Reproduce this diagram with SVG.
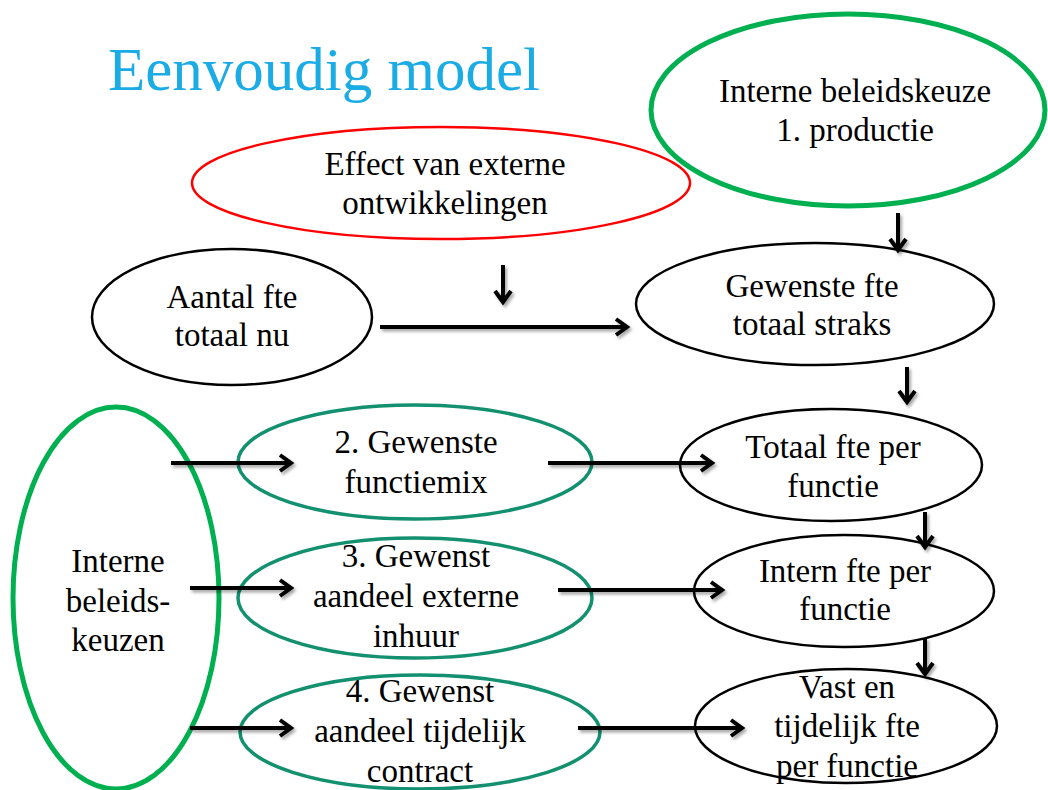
<svg xmlns="http://www.w3.org/2000/svg" width="1048" height="790" viewBox="0 0 1048 790" font-family="'Liberation Serif', 'Times New Roman', serif">
<style>
.t{font-family:"Liberation Serif","Times New Roman",serif;font-size:33px;fill:#000;text-anchor:middle}
.title{font-family:"Liberation Serif","Times New Roman",serif;font-size:61px;fill:#1BACE6}
.blk{fill:none;stroke:#000;stroke-width:2.5}
.red{fill:none;stroke:#FF0000;stroke-width:2.5}
.grn{fill:none;stroke:#00B050;stroke-width:5}
.teal{fill:none;stroke:#12906F;stroke-width:3.5}
.arr{stroke:#000;stroke-width:4;fill:none;marker-end:url(#ah)}
</style>
<defs>
<marker id="ah" viewBox="0 0 18 22" refX="13" refY="11" markerWidth="18" markerHeight="22" markerUnits="userSpaceOnUse" orient="auto">
<path d="M2,3 L13,11 L2,19" fill="none" stroke="#000" stroke-width="4" stroke-linejoin="miter"/>
</marker>
<filter id="sh" x="-20%" y="-50%" width="140%" height="200%">
<feDropShadow dx="2" dy="2.5" stdDeviation="1.5" flood-color="#000" flood-opacity="0.35"/>
</filter>
</defs>
<rect width="1048" height="790" fill="#fff"/>
<text class="title" x="108" y="90">Eenvoudig model</text>

<g id="node-productie">
<ellipse class="grn" cx="848" cy="110" rx="197" ry="96"/>
<text class="t" x="855" y="102">Interne beleidskeuze</text>
<text class="t" x="855" y="141">1. productie</text>
</g>
<g id="node-extern">
<ellipse class="red" cx="441" cy="183" rx="249" ry="56"/>
<text class="t" x="445" y="175">Effect van externe</text>
<text class="t" x="445" y="214">ontwikkelingen</text>
</g>
<g id="node-aantal">
<ellipse class="blk" cx="232" cy="317" rx="140" ry="68"/>
<text class="t" x="232" y="308">Aantal fte</text>
<text class="t" x="232" y="346">totaal nu</text>
</g>
<g id="node-gewenst">
<ellipse class="blk" cx="815" cy="304" rx="179" ry="61"/>
<text class="t" x="812" y="297">Gewenste fte</text>
<text class="t" x="812" y="335">totaal straks</text>
</g>
<g id="node-beleid">
<ellipse class="grn" cx="116" cy="598" rx="103" ry="191"/>
<text class="t" x="118" y="572">Interne</text>
<text class="t" x="118" y="612">beleids-</text>
<text class="t" x="118" y="651">keuzen</text>
</g>
<g id="node-functiemix">
<ellipse class="teal" cx="415" cy="462" rx="177" ry="57"/>
<text class="t" x="416" y="453">2. Gewenste</text>
<text class="t" x="416" y="493">functiemix</text>
</g>
<g id="node-inhuur">
<ellipse class="teal" cx="415" cy="598" rx="177" ry="60"/>
<text class="t" x="416" y="567">3. Gewenst</text>
<text class="t" x="416" y="607">aandeel externe</text>
<text class="t" x="416" y="647">inhuur</text>
</g>
<g id="node-tijdelijk">
<ellipse class="teal" cx="420" cy="732" rx="180" ry="57"/>
<text class="t" x="420" y="702">4. Gewenst</text>
<text class="t" x="420" y="742">aandeel tijdelijk</text>
<text class="t" x="420" y="782">contract</text>
</g>
<g id="node-totaal">
<ellipse class="blk" cx="831" cy="465" rx="151" ry="56"/>
<text class="t" x="833" y="458">Totaal fte per</text>
<text class="t" x="833" y="497">functie</text>
</g>
<g id="node-intern">
<ellipse class="blk" cx="844" cy="591" rx="150" ry="56"/>
<text class="t" x="845" y="582">Intern fte per</text>
<text class="t" x="845" y="620">functie</text>
</g>
<g id="node-vast">
<ellipse class="blk" cx="846" cy="726" rx="151" ry="57"/>
<text class="t" x="847" y="698">Vast en</text>
<text class="t" x="847" y="737">tijdelijk fte</text>
<text class="t" x="847" y="777">per functie</text>
</g>

<g id="connectors" filter="url(#sh)">
<line class="arr" x1="898" y1="213" x2="898" y2="250"/>
<line class="arr" x1="503" y1="265" x2="503" y2="302"/>
<line class="arr" x1="380" y1="327" x2="627" y2="327"/>
<line class="arr" x1="907" y1="367" x2="907" y2="402"/>
<line class="arr" x1="925" y1="512" x2="925" y2="547"/>
<line class="arr" x1="925" y1="638" x2="925" y2="674"/>
<line class="arr" x1="171" y1="463" x2="291" y2="463"/>
<line class="arr" x1="190" y1="588" x2="291" y2="588"/>
<line class="arr" x1="190" y1="728" x2="291" y2="728"/>
<line class="arr" x1="548" y1="463" x2="712" y2="463"/>
<line class="arr" x1="558" y1="590" x2="722" y2="590"/>
<line class="arr" x1="578" y1="728" x2="742" y2="728"/>
</g>
</svg>
